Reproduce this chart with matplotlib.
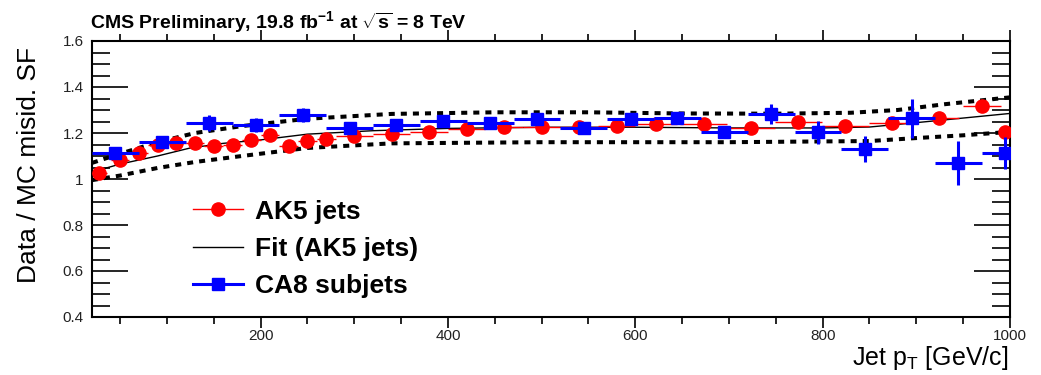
import numpy as np
import matplotlib
matplotlib.use("Agg")
import matplotlib.pyplot as plt
from matplotlib.lines import Line2D
from matplotlib.ticker import MultipleLocator, FormatStrFormatter

plt.rcParams['font.family'] = ['Liberation Sans', 'DejaVu Sans']
plt.rcParams['mathtext.fontset'] = 'custom'
plt.rcParams['mathtext.rm'] = 'Liberation Sans'
plt.rcParams['mathtext.it'] = 'Liberation Sans:italic'
plt.rcParams['mathtext.bf'] = 'Liberation Sans:bold'

# AK5 jets (red circles)
ak5_pt = [28, 50, 70, 90, 110, 130, 150, 170, 190, 210, 230, 250, 270, 300, 340,
          380, 420, 460, 500, 540, 580, 622, 673, 724, 774, 824, 874, 924, 970, 995]
ak5_sf = [1.026, 1.083, 1.113, 1.148, 1.157, 1.157, 1.143, 1.148, 1.17, 1.19, 1.143,
          1.165, 1.174, 1.187, 1.196, 1.204, 1.217, 1.226, 1.226, 1.226, 1.23, 1.24,
          1.24, 1.22, 1.248, 1.23, 1.243, 1.265, 1.317, 1.204]
ak5_xerr = [8, 10, 10, 10, 10, 10, 10, 10, 10, 10, 10, 10, 10, 20, 20,
            20, 20, 20, 20, 20, 20, 22, 25, 25, 25, 25, 25, 22, 20, 5]
ak5_err = [0.006] * 30

# CA8 subjets (blue squares)
ca8_pt = [45, 95, 145, 195, 245, 295, 345, 395, 445, 495, 545, 595, 645, 695, 745,
          795, 845, 895, 945, 995]
ca8_sf = [1.113, 1.16, 1.243, 1.235, 1.278, 1.222, 1.235, 1.252, 1.243, 1.26, 1.222,
          1.26, 1.265, 1.204, 1.283, 1.204, 1.13, 1.265, 1.07, 1.113]
ca8_err = [0.015, 0.012, 0.035, 0.03, 0.03, 0.025, 0.02, 0.02, 0.015, 0.02, 0.015,
           0.015, 0.015, 0.02, 0.045, 0.05, 0.055, 0.085, 0.095, 0.07]
ca8_xerr = [25] * 20

# fit to AK5 jets and its uncertainty band
fit_pt = [20, 50, 90, 125, 160, 200, 250, 320, 400, 500, 600, 700, 800, 850, 900, 950, 1000]
fit_sf = [1.03, 1.065, 1.10, 1.135, 1.155, 1.17, 1.195, 1.21, 1.22, 1.225, 1.225,
          1.222, 1.222, 1.226, 1.245, 1.265, 1.285]
up_pt = [20, 50, 90, 130, 180, 250, 340, 450, 550, 650, 750, 830, 880, 930, 1000]
up_sf = [1.07, 1.11, 1.16, 1.20, 1.23, 1.262, 1.283, 1.29, 1.29, 1.285, 1.284, 1.288,
         1.30, 1.325, 1.355]
lo_pt = [20, 50, 90, 130, 180, 250, 340, 500, 700, 850, 900, 950, 1000]
lo_sf = [0.995, 1.015, 1.048, 1.074, 1.10, 1.135, 1.155, 1.16, 1.16, 1.165, 1.178,
         1.19, 1.205]

fig = plt.figure(figsize=(10.41, 3.75), dpi=100)
ax = fig.add_axes([92 / 1041, 1 - 317 / 375, 918 / 1041, 276 / 375])

ax.plot(up_pt, up_sf, color='black', lw=2.9, ls=(0, (1.5, 1.5)), zorder=2)
ax.plot(lo_pt, lo_sf, color='black', lw=2.9, ls=(0, (1.5, 1.5)), zorder=2)
ax.plot(fit_pt, fit_sf, color='black', lw=1.0, zorder=3)

ax.errorbar(ak5_pt, ak5_sf, xerr=ak5_xerr, yerr=ak5_err, fmt='o', color='red',
            ms=9.5, lw=1.0, capsize=0, zorder=4)
ax.errorbar(ca8_pt, ca8_sf, xerr=ca8_xerr, yerr=ca8_err, fmt='s', color='blue',
            ms=9, lw=2.2, capsize=0, zorder=5)

ax.set_xlim(20, 1000)
ax.set_ylim(0.4, 1.6)

ax.xaxis.set_major_locator(MultipleLocator(200))
ax.xaxis.set_minor_locator(MultipleLocator(50))
ax.yaxis.set_major_locator(MultipleLocator(0.2))
ax.yaxis.set_minor_locator(MultipleLocator(0.05))
ax.yaxis.set_major_formatter(FormatStrFormatter('%g'))

ax.tick_params(axis='x', which='both', direction='out', top=True, bottom=True,
               labelsize=11, labelcolor='#222222', pad=0.5)
ax.tick_params(axis='x', which='major', length=8, width=1.2)
ax.tick_params(axis='x', which='minor', length=5, width=1.2)
ax.tick_params(axis='y', which='both', direction='in', left=True, right=True,
               labelsize=11, labelcolor='#222222', pad=6)
ax.tick_params(axis='y', which='major', length=26, width=1.2)
ax.tick_params(axis='y', which='minor', length=13, width=1.2)
for s in ax.spines.values():
    s.set_linewidth(1.5)

ax.set_ylabel('Data / MC misid. SF', fontsize=19)
ax.yaxis.set_label_coords(-0.056, 0.55)
fig.text(1008 / 1041, 1 - 365 / 375, r'Jet p$_{\mathrm{T}}$ [GeV/c]', fontsize=18,
         ha='right', va='baseline')
fig.text(90 / 1041, 1 - 28 / 375,
         r'CMS Preliminary, 19.8 fb$^{\mathbf{-1}}$ at $\sqrt{\mathbf{s}}$ = 8 TeV',
         fontsize=14, fontweight='bold', ha='left', va='baseline')

handles = [Line2D([], [], color='red', marker='o', ms=9.5, lw=1.0),
           Line2D([], [], color='black', lw=1.0),
           Line2D([], [], color='blue', marker='s', ms=9, lw=2.2)]
labels = ['AK5 jets', 'Fit (AK5 jets)', 'CA8 subjets']
ax.legend(handles, labels, loc='upper left', bbox_to_anchor=(0.11, 0.425),
          frameon=False, borderpad=0, borderaxespad=0, handlelength=1.9,
          handletextpad=0.45, labelspacing=0.5,
          prop={'weight': 'bold', 'size': 19})

fig.savefig('out.png', dpi=100)
